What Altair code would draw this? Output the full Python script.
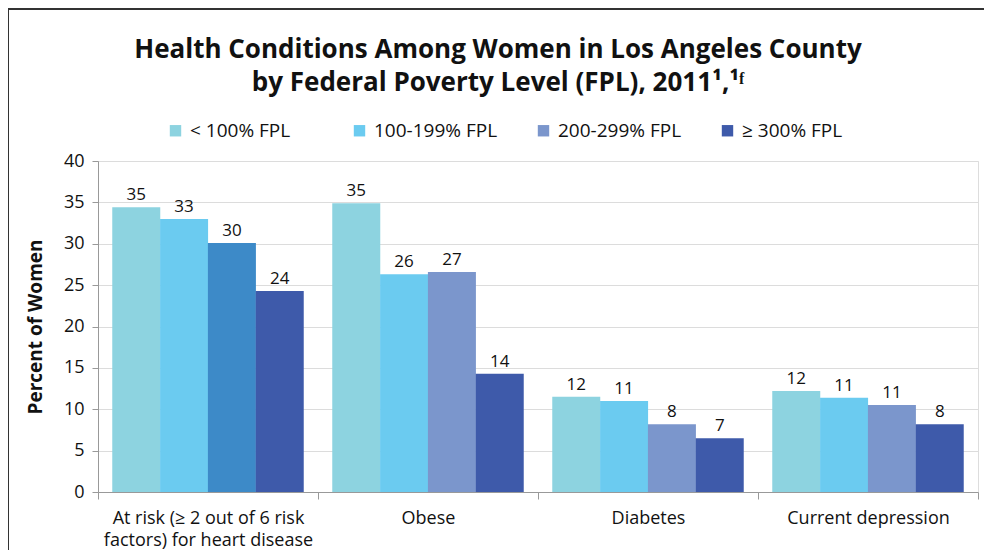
import altair as alt
import pandas as pd

categories = ["At risk (≥ 2 out of 6 risk|factors) for heart disease", "Obese", "Diabetes", "Current depression"]
fpl_levels = ["< 100% FPL", "100-199% FPL", "200-299% FPL", "≥ 300% FPL"]
values = [
    [34.4, 33.0, 30.1, 24.3],
    [34.9, 26.3, 26.6, 14.3],
    [11.5, 11.0, 8.2, 6.5],
    [12.2, 11.4, 10.5, 8.2],
]
labels = [
    ["35", "33", "30", "24"],
    ["35", "26", "27", "14"],
    ["12", "11", "8", "7"],
    ["12", "11", "11", "8"],
]
shade_names = fpl_levels + ["200-299% FPL (heart)"]
shade_colors = ["#8dd3e0", "#6bcbf0", "#7b96cc", "#3e5aaa", "#3d8ac8"]

rows = []
for ci, cat in enumerate(categories):
    for fi, lev in enumerate(fpl_levels):
        shade = lev
        if ci == 0 and fi == 2:
            shade = shade_names[4]
        rows.append({"condition": cat, "fpl": lev, "shade": shade,
                     "value": values[ci][fi], "label": labels[ci][fi]})
df = pd.DataFrame(rows)

FONT = "Open Sans"

x = alt.X("condition:N", sort=categories, title=None,
          scale=alt.Scale(paddingInner=0, paddingOuter=0),
          axis=alt.Axis(labelAngle=0, tickBand="extent", labelExpr="split(datum.label, '|')",
                        labelFont=FONT, labelFontSize=18, labelColor="#111", labelLimit=400,
                        labelPadding=10, labelLineHeight=22, domainColor="#999",
                        tickColor="#999", tickSize=7, grid=False))
xo = alt.XOffset("fpl:N", sort=fpl_levels, scale=alt.Scale(paddingInner=0, paddingOuter=0.3))
y = alt.Y("value:Q", title="Percent of Women",
          scale=alt.Scale(domain=[0, 40]),
          axis=alt.Axis(values=[0, 5, 10, 15, 20, 25, 30, 35, 40], tickSize=6,
                        tickColor="#999", domainColor="#999", gridColor="#dcdcdc",
                        labelFont=FONT, labelFontSize=18, labelColor="#111", labelPadding=8,
                        titleFont=FONT, titleFontSize=19, titleFontWeight="bold",
                        titleColor="#111", titlePadding=18))

base = alt.Chart(df).encode(x=x, xOffset=xo, y=y)

bars = base.mark_bar(size=48).encode(
    color=alt.Color("shade:N", scale=alt.Scale(domain=shade_names, range=shade_colors),
                    legend=alt.Legend(values=fpl_levels, title=None, orient="none",
                                      direction="horizontal", legendX=68, legendY=-40,
                                      symbolType="square", symbolSize=130, symbolStrokeWidth=0,
                                      labelFont=FONT, labelFontSize=19, labelColor="#111",
                                      gridAlign="all", columnPadding=36, labelOffset=5))
)
texts = base.mark_text(dy=-12, font=FONT, fontSize=17, color="#111").encode(text="label:N")

frame_top = alt.Chart(pd.DataFrame({"k": [0]})).mark_rule(color="#333", strokeWidth=2).encode(
    x=alt.value(-90), x2=alt.value(900), y=alt.value(-152))
frame_left = alt.Chart(pd.DataFrame({"k": [0]})).mark_rule(color="#333", strokeWidth=2).encode(
    x=alt.value(-90), y=alt.value(-152), y2=alt.value(400))

chart = (bars + texts + frame_top + frame_left).properties(
    width=880, height=331,
    title=alt.Title(["Health Conditions Among Women in Los Angeles County",
                     "by Federal Poverty Level (FPL), 2011¹,¹ᶠ"],
                    font=FONT, fontSize=26, fontWeight="bold", color="#111",
                    lineHeight=33, anchor="middle", dx=-40, offset=-88),
    autosize=alt.AutoSizeParams(type="none"),
    padding={"left": 90, "top": 153, "right": 6, "bottom": 58},
).configure_view(stroke=None).configure(background="white")

chart.save("out.html", embed_options={"renderer": "svg", "actions": False})
